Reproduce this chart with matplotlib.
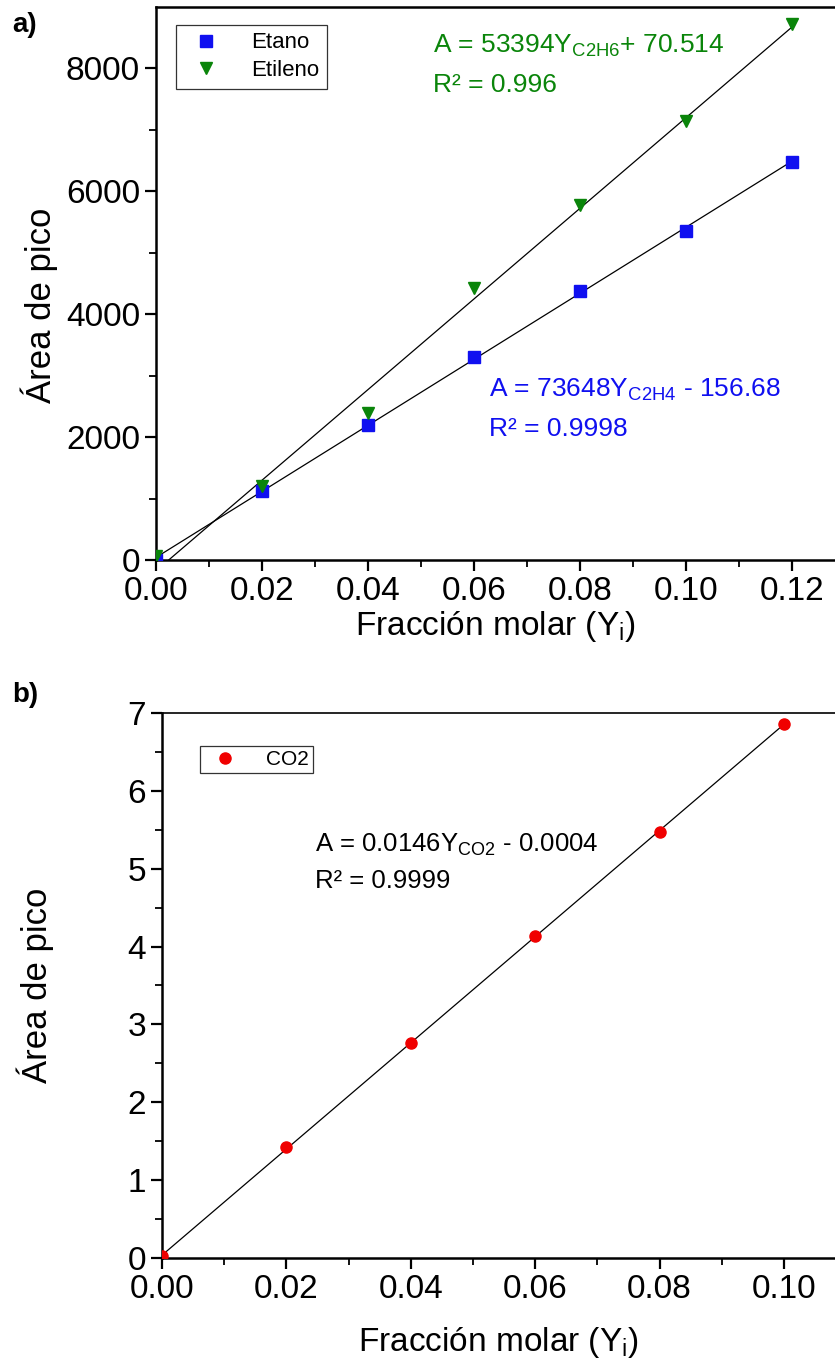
import numpy as np
import matplotlib
matplotlib.use("Agg")
import matplotlib.pyplot as plt

plt.rcParams["font.family"] = ["Liberation Sans", "DejaVu Sans"]
plt.rcParams["mathtext.default"] = "regular"

# ── Data ──────────────────────────────────────────────────────────────
frac_a = [0.00, 0.02, 0.04, 0.06, 0.08, 0.10, 0.12]
etano = [0, 1130, 2200, 3310, 4370, 5360, 6480]
etileno = [60, 1200, 2390, 4420, 5780, 7150, 8720]

frac_b = [0.00, 0.02, 0.04, 0.06, 0.08, 0.10]
co2 = [0.02, 1.42, 2.76, 4.14, 5.47, 6.86]

eq_etano = "A = 53394Y$_{C2H6}$+ 70.514\nR² = 0.996"
eq_etileno = "A = 73648Y$_{C2H4}$ - 156.68\nR² = 0.9998"
eq_co2 = "A = 0.0146Y$_{CO2}$ - 0.0004\nR² = 0.9999"

GREEN = "#0a850a"
BLUE = "#1010f0"
RED = "#f00000"
FS = 24


def style_axis(ax):
    for s in ["left", "bottom", "top"]:
        ax.spines[s].set_linewidth(1.8)
    ax.spines["right"].set_visible(False)
    ax.tick_params(which="major", direction="out", length=8, width=1.6, labelsize=FS)
    ax.tick_params(which="minor", direction="out", length=5, width=1.3)
    ax.tick_params(top=False, right=False)


def fit_line(ax, x, y):
    m, b = np.polyfit(x, y, 1)
    xx = np.array([min(x), max(x)])
    ax.plot(xx, m * xx + b, color="black", lw=0.9, zorder=2)


fig = plt.figure(figsize=(8.35, 13.65), dpi=100)

# ── (a) Etano / Etileno ───────────────────────────────────────────────
ax = fig.add_axes([0.1868, 0.5897, 0.8132, 0.4052])
fit_line(ax, frac_a, etano)
fit_line(ax, frac_a, etileno)
ax.plot(frac_a, etano, "s", color=BLUE, ms=8, label="Etano", zorder=3)
ax.plot(frac_a, etileno, "v", color=GREEN, ms=9, label="Etileno", zorder=3)
ax.set_xlim(0, 0.1282)
ax.set_ylim(0, 9000)
ax.set_xticks(np.arange(0, 0.121, 0.02))
ax.set_xticks(np.arange(0.01, 0.13, 0.02), minor=True)
ax.set_yticks(np.arange(0, 8001, 2000))
ax.set_yticks(np.arange(1000, 9000, 2000), minor=True)
ax.xaxis.set_major_formatter(matplotlib.ticker.FormatStrFormatter("%.2f"))
style_axis(ax)
ax.set_xlabel("Fracción molar (Y$_i$)", fontsize=24)
ax.set_ylabel("Área de pico", fontsize=25)
ax.xaxis.set_label_coords(0.50, -0.088)
ax.yaxis.set_label_coords(-0.145, 0.46)
leg = ax.legend(loc="upper left", bbox_to_anchor=(0.03, 0.968), fontsize=16,
                frameon=True, fancybox=False, edgecolor="black", handletextpad=1.0,
                borderpad=0.35, labelspacing=0.3, borderaxespad=0)
leg.get_frame().set_linewidth(0.9)
ax.text(0.0523, 8060, eq_etano, color=GREEN, fontsize=19, va="center",
        linespacing=1.75)
ax.text(0.0628, 2460, eq_etileno, color=BLUE, fontsize=19, va="center",
        linespacing=1.75)
fig.text(0.015, 0.982, "a)", fontsize=20, fontweight="bold", va="center")

# ── (b) CO2 ───────────────────────────────────────────────────────────
ax = fig.add_axes([0.194, 0.0784, 0.806, 0.3993])
fit_line(ax, frac_b, co2)
ax.plot(frac_b, co2, "o", color=RED, ms=8, label="CO2", zorder=3)
ax.set_xlim(0, 0.1082)
ax.set_ylim(0, 7)
ax.set_xticks(np.arange(0, 0.101, 0.02))
ax.set_xticks(np.arange(0.01, 0.11, 0.02), minor=True)
ax.set_yticks(np.arange(0, 8, 1))
ax.set_yticks(np.arange(0.5, 7, 1), minor=True)
ax.xaxis.set_major_formatter(matplotlib.ticker.FormatStrFormatter("%.2f"))
style_axis(ax)
ax.spines["top"].set_linewidth(1.2)
ax.set_xlabel("Fracción molar (Y$_i$)", fontsize=24)
ax.set_ylabel("Área de pico", fontsize=25)
ax.xaxis.set_label_coords(0.50, -0.123)
ax.yaxis.set_label_coords(-0.16, 0.5)
leg = ax.legend(loc="upper left", bbox_to_anchor=(0.056, 0.94), fontsize=15,
                frameon=True, fancybox=False, edgecolor="black", handletextpad=1.0,
                borderpad=0.2, borderaxespad=0)
leg.get_frame().set_linewidth(0.9)
ax.text(0.0246, 5.08, eq_co2, color="black", fontsize=18.5, va="center",
        linespacing=1.6)
fig.text(0.015, 0.491, "b)", fontsize=20, fontweight="bold", va="center")

fig.savefig("out.png", dpi=100)
